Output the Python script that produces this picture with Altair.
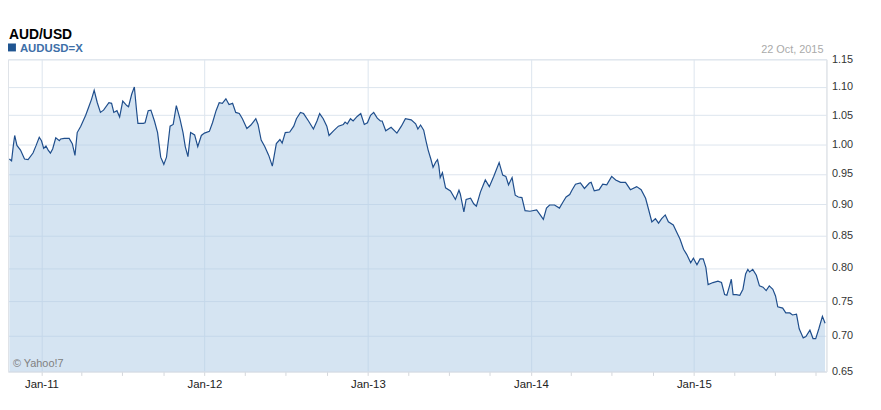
import altair as alt
import pandas as pd

FONT = "Liberation Sans, Arial, sans-serif"

TITLE = "AUD/USD"
SERIES = "AUDUSD=X"
DATE_LABEL = "22 Oct, 2015"
CREDIT = "© Yahoo!7"

DATES = [
    "2010-10-21", "2010-10-26", "2010-10-30", "2010-11-02", "2010-11-07", "2010-11-15", "2010-11-24",
    "2010-12-02", "2010-12-13", "2010-12-20", "2010-12-27", "2011-01-01", "2011-01-06", "2011-01-11",
    "2011-01-16", "2011-01-21", "2011-01-26", "2011-02-02", "2011-02-10", "2011-02-13", "2011-02-21",
    "2011-03-04", "2011-03-11", "2011-03-17", "2011-03-22", "2011-03-30", "2011-04-10", "2011-04-17",
    "2011-04-23", "2011-04-29", "2011-05-06", "2011-05-13", "2011-05-20", "2011-06-01", "2011-06-07",
    "2011-06-12", "2011-06-19", "2011-06-25", "2011-07-02", "2011-07-11", "2011-07-15", "2011-07-22",
    "2011-07-28", "2011-08-02", "2011-08-05", "2011-08-17", "2011-08-21", "2011-08-28", "2011-09-03",
    "2011-09-11", "2011-09-18", "2011-09-25", "2011-10-02", "2011-10-08", "2011-10-16", "2011-10-23",
    "2011-10-30", "2011-11-07", "2011-11-14", "2011-11-19", "2011-11-25", "2011-12-01", "2011-12-10",
    "2011-12-17", "2011-12-25", "2012-01-01", "2012-01-12", "2012-01-19", "2012-01-27", "2012-02-03",
    "2012-02-10", "2012-02-18", "2012-02-25", "2012-03-04", "2012-03-11", "2012-03-19", "2012-03-26",
    "2012-04-05", "2012-04-14", "2012-04-25", "2012-04-30", "2012-05-07", "2012-05-15", "2012-05-24",
    "2012-06-01", "2012-06-10", "2012-06-18", "2012-06-23", "2012-06-30", "2012-07-10", "2012-07-19",
    "2012-07-25", "2012-08-03", "2012-08-10", "2012-08-21", "2012-09-01", "2012-09-09", "2012-09-15",
    "2012-09-23", "2012-10-01", "2012-10-06", "2012-10-16", "2012-10-27", "2012-11-07", "2012-11-11",
    "2012-11-16", "2012-11-23", "2012-11-29", "2012-12-08", "2012-12-16", "2012-12-24", "2012-12-31",
    "2013-01-07", "2013-01-14", "2013-01-22", "2013-01-29", "2013-02-02", "2013-02-10", "2013-02-22",
    "2013-03-07", "2013-03-17", "2013-03-26", "2013-04-08", "2013-04-18", "2013-04-23", "2013-04-29",
    "2013-05-06", "2013-05-11", "2013-05-16", "2013-05-22", "2013-05-27", "2013-06-02", "2013-06-06",
    "2013-06-09", "2013-06-12", "2013-06-17", "2013-06-20", "2013-06-24", "2013-07-05", "2013-07-16",
    "2013-07-24", "2013-07-27", "2013-08-04", "2013-08-09", "2013-08-19", "2013-08-26", "2013-09-01",
    "2013-09-10", "2013-09-21", "2013-09-30", "2013-10-10", "2013-10-22", "2013-10-30", "2013-11-06",
    "2013-11-12", "2013-11-20", "2013-11-27", "2013-12-04", "2013-12-12", "2013-12-19", "2013-12-30",
    "2014-01-14", "2014-01-22", "2014-01-29", "2014-02-05", "2014-02-12", "2014-02-23", "2014-03-06",
    "2014-03-14", "2014-03-21", "2014-03-29", "2014-04-03", "2014-04-11", "2014-04-22", "2014-05-01",
    "2014-05-12", "2014-05-16", "2014-05-23", "2014-06-03", "2014-06-11", "2014-06-20", "2014-07-01",
    "2014-07-10", "2014-07-21", "2014-08-01", "2014-08-12", "2014-08-26", "2014-09-05", "2014-09-15",
    "2014-09-22", "2014-09-29", "2014-10-07", "2014-10-14", "2014-10-21", "2014-10-29", "2014-11-05",
    "2014-11-16", "2014-11-24", "2014-12-01", "2014-12-09", "2014-12-16", "2014-12-25", "2014-12-31",
    "2015-01-08", "2015-01-15", "2015-01-22", "2015-01-28", "2015-02-02", "2015-02-13", "2015-02-24",
    "2015-03-04", "2015-03-11", "2015-03-16", "2015-03-22", "2015-03-26", "2015-03-30", "2015-04-06",
    "2015-04-14", "2015-04-21", "2015-04-27", "2015-05-02", "2015-05-06", "2015-05-13", "2015-05-21",
    "2015-05-28", "2015-06-05", "2015-06-12", "2015-06-19", "2015-06-27", "2015-07-03", "2015-07-08",
    "2015-07-19", "2015-07-26", "2015-08-04", "2015-08-10", "2015-08-19", "2015-08-25", "2015-09-03",
    "2015-09-09", "2015-09-18", "2015-09-25", "2015-10-01", "2015-10-08", "2015-10-16", "2015-10-22",
]

VALUES = [
    0.975, 0.972, 0.998, 1.015, 0.998, 0.990, 0.975,
    0.974, 0.985, 0.998, 1.012, 1.006, 0.993, 0.997,
    0.990, 0.985, 0.992, 1.011, 1.006, 1.009, 1.010,
    1.010, 1.001, 0.981, 1.020, 1.031, 1.050, 1.065,
    1.078, 1.094, 1.072, 1.055, 1.059, 1.072, 1.071,
    1.055, 1.058, 1.047, 1.075, 1.067, 1.065, 1.087,
    1.100, 1.058, 1.036, 1.036, 1.037, 1.058, 1.059,
    1.040, 1.020, 0.978, 0.966, 0.978, 1.031, 1.034,
    1.067, 1.044, 1.020, 0.996, 0.979, 1.020, 1.016,
    0.996, 1.015, 1.019, 1.022, 1.037, 1.058, 1.072,
    1.071, 1.079, 1.069, 1.071, 1.055, 1.053, 1.044,
    1.027, 1.033, 1.044, 1.034, 1.007, 0.996, 0.981,
    0.963, 1.001, 1.008, 1.002, 1.020, 1.021, 1.031,
    1.044, 1.055, 1.053, 1.040, 1.026, 1.040, 1.053,
    1.044, 1.031, 1.015, 1.023, 1.031, 1.034, 1.038,
    1.035, 1.044, 1.040, 1.048, 1.053, 1.034, 1.037,
    1.050, 1.055, 1.045, 1.040, 1.040, 1.023, 1.029,
    1.019, 1.031, 1.044, 1.042, 1.035, 1.026, 1.033,
    1.024, 1.006, 0.990, 0.975, 0.961, 0.970, 0.974,
    0.963, 0.944, 0.952, 0.941, 0.927, 0.922, 0.908,
    0.923, 0.917, 0.888, 0.908, 0.910, 0.901, 0.897,
    0.920, 0.940, 0.929, 0.946, 0.969, 0.948, 0.946,
    0.932, 0.944, 0.915, 0.912, 0.911, 0.890, 0.889,
    0.891, 0.883, 0.876, 0.894, 0.899, 0.899, 0.894,
    0.904, 0.912, 0.916, 0.923, 0.933, 0.935, 0.926,
    0.935, 0.936, 0.922, 0.924, 0.933, 0.932, 0.946,
    0.940, 0.936, 0.936, 0.924, 0.929, 0.924, 0.910,
    0.891, 0.872, 0.877, 0.870, 0.877, 0.883, 0.872,
    0.867, 0.855, 0.845, 0.829, 0.821, 0.808, 0.815,
    0.805, 0.814, 0.814, 0.801, 0.775, 0.778, 0.780,
    0.778, 0.760, 0.759, 0.773, 0.783, 0.760, 0.760,
    0.759, 0.768, 0.791, 0.798, 0.794, 0.798, 0.789,
    0.773, 0.771, 0.766, 0.773, 0.768, 0.758, 0.742,
    0.740, 0.733, 0.733, 0.730, 0.731, 0.710, 0.697,
    0.699, 0.708, 0.696, 0.696, 0.710, 0.728, 0.718,
]

Y_TICKS = [0.65, 0.70, 0.75, 0.80, 0.85, 0.90, 0.95, 1.00, 1.05, 1.10, 1.15]
Y_DOMAIN = [0.65, 1.15]
X_DOMAIN = ["2010-10-18", "2015-10-25"]
TICK_DATES = [
    "2011-01-01", "2011-04-01", "2011-07-01", "2011-10-01",
    "2012-01-01", "2012-04-01", "2012-07-01", "2012-10-01",
    "2013-01-01", "2013-04-01", "2013-07-01", "2013-10-01",
    "2014-01-01", "2014-04-01", "2014-07-01", "2014-10-01",
    "2015-01-01", "2015-04-01", "2015-07-01", "2015-10-01",
]


def dt(s):
    return alt.DateTime(year=int(s[:4]), month=int(s[5:7]), date=int(s[8:10]), utc=True)


df = pd.DataFrame({"date": DATES, "value": VALUES})

GRID = "#dde5ee"
FRAME = "#dfe3e8"

x_axis = alt.Axis(
    values=[dt(s) for s in TICK_DATES],
    tickCount=40,
    labelExpr="utcmonth(datum.value) == 0 ? utcFormat(datum.value, '%b-%y') : ''",
    labelOverlap=False,
    labelFontSize=11.5,
    labelColor="#222222",
    labelFont=FONT,
    labelPadding=3,
    tickSize=4,
    tickColor="#d3d7dc",
    domainColor=FRAME,
    grid=True,
    gridColor=GRID,
    gridOpacity={"condition": {"test": "utcmonth(datum.value) == 0", "value": 1}, "value": 0},
    title=None,
)

y_axis = alt.Axis(
    orient="right",
    values=Y_TICKS,
    tickCount=20,
    format=".2f",
    labelOverlap=False,
    labelFontSize=11,
    labelColor="#333333",
    labelFont=FONT,
    labelPadding=5,
    tickSize=0,
    domainColor=FRAME,
    grid=True,
    gridColor=GRID,
    title=None,
)

x_enc = alt.X("date:T", scale=alt.Scale(type="utc", domain=[dt(s) for s in X_DOMAIN]), axis=x_axis)
y_enc = alt.Y("value:Q", scale=alt.Scale(type="sqrt", domain=Y_DOMAIN, zero=False, nice=False), axis=y_axis)

area = alt.Chart(df).mark_area(color="#abcae5", opacity=0.5, clip=True).encode(x=x_enc, y=y_enc)
line = alt.Chart(df).mark_line(color="#1f4e8c", strokeWidth=1.2, clip=True).encode(
    x=alt.X("date:T"), y=alt.Y("value:Q")
)

title_txt = alt.Chart(pd.DataFrame({"t": [TITLE]})).mark_text(
    align="left", baseline="alphabetic", fontSize=14, fontWeight="bold", font=FONT, color="#000000"
).encode(x=alt.value(1), y=alt.value(-21), text="t:N")

legend_box = alt.Chart(pd.DataFrame({"t": [SERIES]})).mark_rect(color="#1f5591").encode(
    x=alt.value(0), x2=alt.value(8), y=alt.value(-16), y2=alt.value(-8)
)

series_txt = alt.Chart(pd.DataFrame({"t": [SERIES]})).mark_text(
    align="left", baseline="alphabetic", fontSize=11.5, fontWeight="bold", font=FONT, color="#3d6fa8"
).encode(x=alt.value(12), y=alt.value(-7), text="t:N")

date_txt = alt.Chart(pd.DataFrame({"t": [DATE_LABEL]})).mark_text(
    align="right", baseline="alphabetic", fontSize=11, font=FONT, color="#aaaaaa"
).encode(x=alt.value(823), y=alt.value(-6), text="t:N")

credit_txt = alt.Chart(pd.DataFrame({"t": [CREDIT]})).mark_text(
    align="left", baseline="alphabetic", fontSize=11, font=FONT, color="#808080"
).encode(x=alt.value(5), y=alt.value(310), text="t:N")

chart = (
    alt.layer(area, line, title_txt, legend_box, series_txt, date_txt, credit_txt)
    .properties(
        width=826,
        height=315,
        autosize=alt.AutoSizeParams(type="none"),
        padding={"left": 0, "top": 50, "right": 47, "bottom": 29},
        background="white",
    )
    .configure_view(stroke=FRAME, strokeWidth=1)
)

chart.save("out.html", embed_options={"renderer": "svg", "actions": False})
